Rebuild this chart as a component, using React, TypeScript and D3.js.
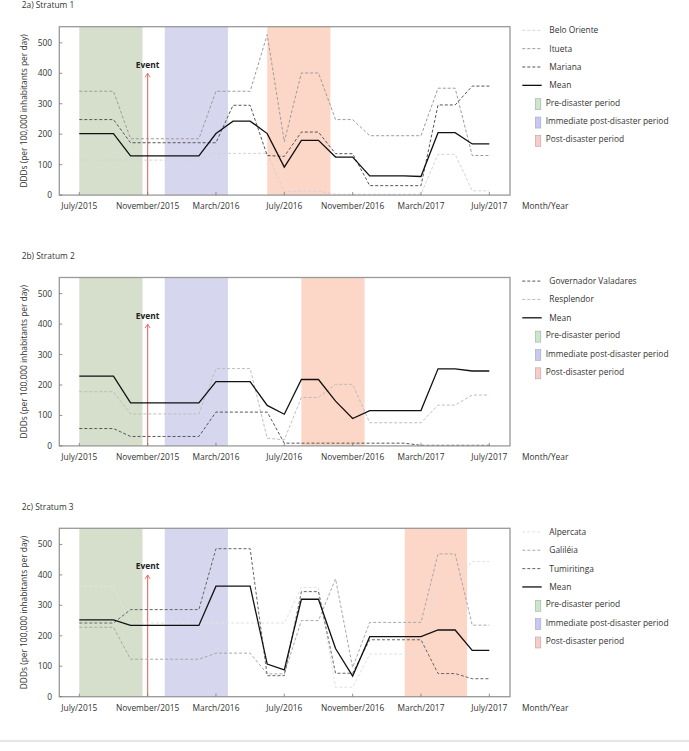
import React from "react";
import * as d3 from "d3";

// ---------- data ----------
const monthIndex = [0,1,2,3,4,5,6,7,8,9,10,11,12,13,14,15,16,17,18,19,20,21,22,23,24];
const xTickMonths = [0, 4, 8, 12, 16, 20, 24];
const xTickLabels = ["July/2015", "November/2015", "March/2016", "July/2016", "November/2016", "March/2017", "July/2017"];
const yTicks = [0, 100, 200, 300, 400, 500];

// Stratum 1
const s1BeloOriente = [115,115,115,115,115,115,115,115,137,137,137,137,11,13,13,3,3,3,3,3,3,134,134,14,14];
const s1Itueta = [341,341,341,185,185,185,185,185,341,341,341,527,175,401,401,248,248,195,195,195,195,351,351,130,130];
const s1Mariana = [248,248,248,172,172,172,172,172,172,295,295,130,127,207,207,136,136,31,31,31,31,296,296,358,358];
const s1Mean = [202,202,202,129,129,129,129,129,202,243,243,202,92,180,180,125,125,63,63,63,61,205,205,168,168];

// Stratum 2
const s2GovValadares = [57,57,57,31,31,31,31,31,111,111,111,111,9,9,9,9,9,9,9,9,2,2,2,2,2];
const s2Resplendor = [178,178,178,105,105,105,105,105,254,254,254,25,20,159,159,202,202,76,76,76,76,134,134,167,167];
const s2Mean = [229,229,229,141,141,141,141,141,211,211,211,133,104,218,218,147,90,116,116,116,116,253,253,246,246];

// Stratum 3
const s3Alpercata = [362,362,362,242,242,242,242,242,242,242,242,242,242,359,359,31,31,140,140,140,140,381,381,444,444];
const s3Galileia = [228,228,228,123,123,123,123,123,143,143,143,75,75,250,250,387,96,244,244,244,244,469,469,235,235];
const s3Tumiritinga = [242,242,242,286,286,286,286,286,486,486,486,69,69,345,345,77,77,187,187,187,187,76,76,59,59];
const s3Mean = [252,252,252,234,234,234,234,234,363,363,363,107,88,320,320,158,68,197,197,197,197,219,219,152,152];

// periods (start month, end month)
const prePeriod = [0, 3.7];
const immediatePeriod = [5, 8.7];
const postPeriod1 = [11, 14.7];
const postPeriod2 = [13, 16.7];
const postPeriod3 = [19.05, 22.7];
const eventMonth = 4;
const eventValue = 400;

const legendPeriods = ["Pre-disaster period", "Immediate post-disaster period", "Post-disaster period"];

// ---------- styling ----------
const FONT = "'Open Sans', 'Noto Sans', sans-serif";
const FS = 8.4;
const BOX_LEFT = 59.3;
const BOX_RIGHT = 510;
const BOX_H = 168.4;
const GREEN = "#d5dfcc";
const PURPLE = "#d6d6ee";
const PINK = "#fcd6c7";
const SW_GREEN = "#c9e7c9";
const SW_PURPLE = "#c8c8f6";
const SW_PINK = "#fdcaca";

type Series = { name: string; values: number[]; color: string; dash: string | null; width: number };

const xScale = d3.scaleLinear().domain([0, 24]).range([79.3, 489.3]);

function Panel({ top, title, series, post }: { top: number; title: string; series: Series[]; post: number[] }) {
  const bottom = top + BOX_H;
  const y = d3.scaleLinear().domain([0, 553]).range([bottom, top]);
  const line = (vals: number[]) =>
    d3.line<number>().x((_, i) => xScale(monthIndex[i])).y((v) => y(v))(vals) || "";
  const bands = [
    { p: prePeriod, c: GREEN },
    { p: immediatePeriod, c: PURPLE },
    { p: post, c: PINK },
  ];
  const arrowTop = y(eventValue);
  const ex = xScale(eventMonth);
  const legendX = 522.3;
  const rowY = (i: number) => top + 3.6 + i * 18.35;
  return (
    <g>
      <text x={21.7} y={top - 18.3} fontSize={FS} fill="#333" fontFamily={FONT}>{title}</text>
      {bands.map((b, i) => (
        <rect key={i} x={xScale(b.p[0])} y={top} width={xScale(b.p[1]) - xScale(b.p[0])} height={BOX_H} fill={b.c} />
      ))}
      {/* event arrow */}
      <line x1={ex} x2={ex} y1={bottom} y2={arrowTop} stroke="#e87575" strokeWidth={1.2} />
      <path d={`M${ex - 2.5},${arrowTop + 4} L${ex},${arrowTop} L${ex + 2.5},${arrowTop + 4}`} fill="none" stroke="#e87575" strokeWidth={1} />
      <text x={ex} y={arrowTop - 5.5} textAnchor="middle" fontSize={FS} fontWeight="bold" fill="#222" fontFamily={FONT}>Event</text>
      {series.map((s, i) => (
        <path key={i} d={line(s.values)} fill="none" stroke={s.color} strokeWidth={s.width} strokeDasharray={s.dash || undefined} />
      ))}
      {/* box */}
      <rect x={BOX_LEFT} y={top} width={BOX_RIGHT - BOX_LEFT} height={BOX_H} fill="none" stroke="#999" strokeWidth={1.3} />
      {/* y ticks */}
      {yTicks.map((t) => (
        <g key={t}>
          <line x1={BOX_LEFT} x2={BOX_LEFT + 3} y1={y(t)} y2={y(t)} stroke="#777" strokeWidth={0.8} />
          <text x={52} y={y(t) + 3} textAnchor="end" fontSize={FS} fill="#333" fontFamily={FONT}>{t}</text>
        </g>
      ))}
      {/* x ticks */}
      {xTickMonths.map((m, i) => (
        <g key={m}>
          <line x1={xScale(m)} x2={xScale(m)} y1={bottom} y2={bottom - 3} stroke="#777" strokeWidth={0.8} />
          <text x={xScale(m)} y={bottom + 14} textAnchor="middle" fontSize={FS} fill="#333" fontFamily={FONT}>{xTickLabels[i]}</text>
        </g>
      ))}
      <text x={522} y={bottom + 14} fontSize={FS} fill="#333" fontFamily={FONT}>Month/Year</text>
      <text transform={`translate(27,${top + BOX_H / 2}) rotate(-90)`} textAnchor="middle" fontSize={FS} fill="#333" fontFamily={FONT}>
        DDDs (per 100,000 inhabitants per day)
      </text>
      {/* legend */}
      {series.map((s, i) => (
        <g key={s.name}>
          <line x1={legendX} x2={legendX + 19.4} y1={rowY(i)} y2={rowY(i)} stroke={s.color} strokeWidth={s.width} strokeDasharray={s.dash || undefined} />
          <text x={549.3} y={rowY(i) + 3} fontSize={FS} fill="#333" fontFamily={FONT}>{s.name}</text>
        </g>
      ))}
      {legendPeriods.map((p, j) => {
        const ry = rowY(series.length + j);
        const c = [SW_GREEN, SW_PURPLE, SW_PINK][j];
        return (
          <g key={p}>
            <rect x={535.3} y={ry - 5} width={5.5} height={11} fill={c} stroke="#aaa" strokeWidth={0.6} />
            <text x={545.7} y={ry + 2} fontSize={FS} fill="#333" fontFamily={FONT}>{p}</text>
          </g>
        );
      })}
    </g>
  );
}

const DASH = "3,2";

export default function App() {
  const p1: Series[] = [
    { name: "Belo Oriente", values: s1BeloOriente, color: "#d4d4d4", dash: DASH, width: 1 },
    { name: "Itueta", values: s1Itueta, color: "#9c9c9c", dash: DASH, width: 1 },
    { name: "Mariana", values: s1Mariana, color: "#555", dash: DASH, width: 1 },
    { name: "Mean", values: s1Mean, color: "#111", dash: null, width: 1.3 },
  ];
  const p2: Series[] = [
    { name: "Governador Valadares", values: s2GovValadares, color: "#555", dash: DASH, width: 1 },
    { name: "Resplendor", values: s2Resplendor, color: "#bdbdbd", dash: DASH, width: 1 },
    { name: "Mean", values: s2Mean, color: "#111", dash: null, width: 1.3 },
  ];
  const p3: Series[] = [
    { name: "Alpercata", values: s3Alpercata, color: "#e2e2e2", dash: DASH, width: 1 },
    { name: "Galiléia", values: s3Galileia, color: "#a8a8a8", dash: DASH, width: 1 },
    { name: "Tumiritinga", values: s3Tumiritinga, color: "#666", dash: DASH, width: 1 },
    { name: "Mean", values: s3Mean, color: "#111", dash: null, width: 1.3 },
  ];
  return (
    <svg width={689} height={751} style={{ position: "absolute", left: 0, top: 0, display: "block", background: "#fff" }}>
      <Panel top={26.7} title="2a) Stratum 1" series={p1} post={postPeriod1} />
      <Panel top={277.5} title="2b) Stratum 2" series={p2} post={postPeriod2} />
      <Panel top={528.3} title="2c) Stratum 3" series={p3} post={postPeriod3} />
      <line x1={0} x2={689} y1={741} y2={741} stroke="#ccc" strokeWidth={1.2} />
    </svg>
  );
}
